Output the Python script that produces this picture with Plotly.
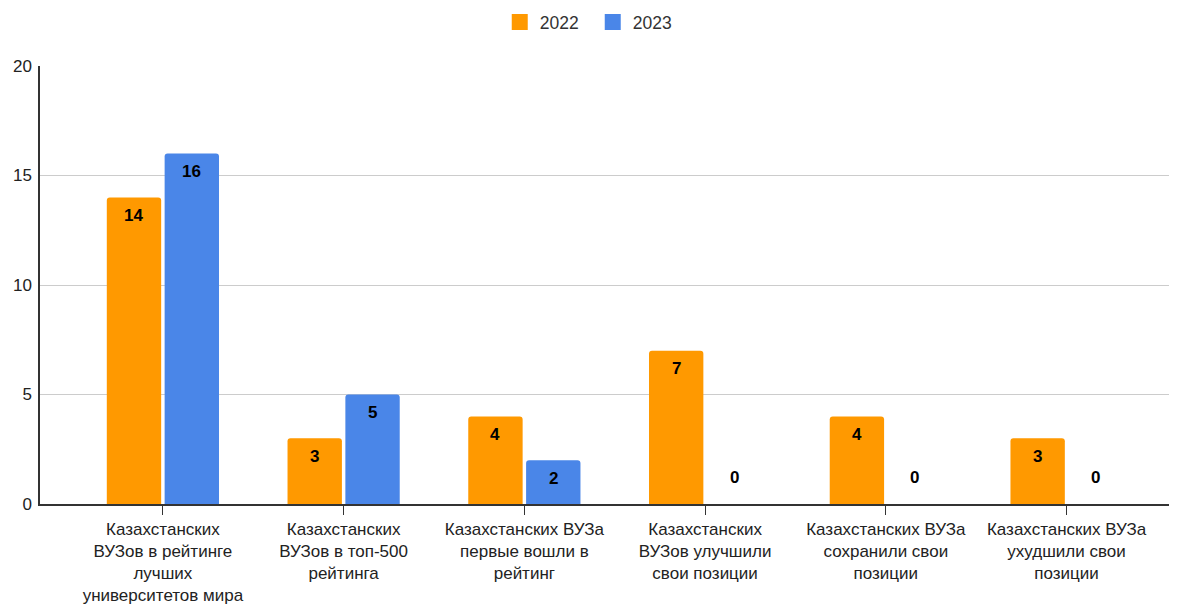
import plotly.graph_objects as go

categories = [
    "Казахстанских<br>ВУЗов в рейтинге<br>лучших<br>университетов мира",
    "Казахстанских<br>ВУЗов в топ-500<br>рейтинга",
    "Казахстанских ВУЗа<br>первые вошли в<br>рейтинг",
    "Казахстанских<br>ВУЗов улучшили<br>свои позиции",
    "Казахстанских ВУЗа<br>сохранили свои<br>позиции",
    "Казахстанских ВУЗа<br>ухудшили свои<br>позиции",
]
series_names = ["2022", "2023"]
values_2022 = [14, 3, 4, 7, 4, 3]
values_2023 = [16, 5, 2, 0, 0, 0]
colors = ["#FF9900", "#4A86E8"]
y_ticks = [0, 5, 10, 15, 20]

FONT = "Liberation Sans, Arial, sans-serif"

fig = go.Figure()
for name, vals, col in zip(series_names, [values_2022, values_2023], colors):
    fig.add_trace(go.Bar(
        name=name, x=categories, y=vals, marker=dict(color=col, line=dict(width=0)),
        hoverinfo="skip", showlegend=False,
    ))
# legend entries with larger square swatches
for name, col in zip(series_names, colors):
    fig.add_trace(go.Scatter(
        name=name, x=[None], y=[None], mode="markers",
        marker=dict(symbol="square", size=17, color=col), hoverinfo="skip",
    ))

annotations = []
for vals, shift in zip([values_2022, values_2023], [-29, 29]):
    for c, v in zip(categories, vals):
        annotations.append(dict(
            x=c, y=v, xref="x", yref="y", text=f"<b>{v}</b>", showarrow=False,
            xshift=shift, yshift=(27 if v == 0 else -18),
            font=dict(family=FONT, size=17, color="#000000"),
        ))

fig.update_layout(
    width=1169, height=596,
    margin=dict(l=32, r=2, t=58, b=100, autoexpand=False),
    plot_bgcolor="white", paper_bgcolor="white",
    barmode="group", bargap=0.36, bargroupgap=0.06, barcornerradius=3,
    font=dict(family=FONT, size=17, color="#222222"),
    legend=dict(orientation="h", x=0.487, xanchor="center", y=1.1, yanchor="middle",
                font=dict(size=17.5, color="#333333"), itemwidth=30, entrywidth=48,
                traceorder="normal"),
    annotations=annotations,
    xaxis=dict(
        type="category", range=[-0.68, 5.6], showgrid=False,
        showline=True, linecolor="#333333", linewidth=1.5,
        ticks="outside", ticklen=9, tickcolor="#333333", tickwidth=1,
        tickfont=dict(size=17, color="#222222"),
        fixedrange=True,
    ),
    yaxis=dict(
        range=[0, 20], tickvals=y_ticks, showgrid=True, gridcolor="#CCCCCC", gridwidth=1,
        showline=True, linecolor="#333333", linewidth=1.5, zeroline=False,
        ticks="", tickfont=dict(size=17, color="#222222"), ticklabelstandoff=3,
        fixedrange=True,
    ),
)
fig.write_html("out.html")
